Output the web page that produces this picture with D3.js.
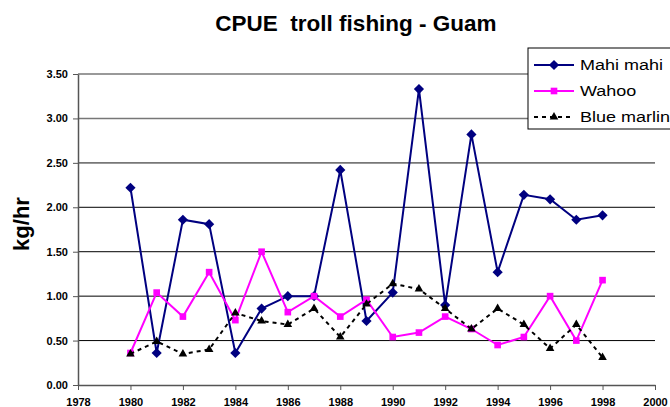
<!DOCTYPE html>
<html>
<head>
<meta charset="utf-8">
<script src="https://cdn.jsdelivr.net/npm/d3@7"></script>
<style>
  body { margin: 0; background: #fff; }
  svg { display: block; font-family: Arial, "Liberation Sans", sans-serif; }
</style>
</head>
<body>
<svg id="chart" width="670" height="407"></svg>
<script>
const years = [1980, 1981, 1982, 1983, 1984, 1985, 1986, 1987, 1988, 1989,
  1990, 1991, 1992, 1993, 1994, 1995, 1996, 1997, 1998];
const mahiMahi = [2.22, 0.36, 1.86, 1.81, 0.36, 0.86, 1.00, 1.00, 2.42, 0.72,
  1.04, 3.33, 0.90, 2.82, 1.27, 2.14, 2.09, 1.86, 1.91];
const wahoo = [0.36, 1.04, 0.77, 1.27, 0.73, 1.50, 0.82, 1.00, 0.77, 0.96,
  0.54, 0.59, 0.77, 0.63, 0.45, 0.54, 1.00, 0.50, 1.18];
const blueMarlin = [0.35, 0.49, 0.35, 0.40, 0.81, 0.72, 0.68, 0.86, 0.54, 0.91,
  1.14, 1.08, 0.86, 0.63, 0.86, 0.68, 0.41, 0.68, 0.31];
const xTicks = [1978, 1980, 1982, 1984, 1986, 1988, 1990, 1992, 1994, 1996, 1998, 2000];
const yTicks = [0, 0.5, 1.0, 1.5, 2.0, 2.5, 3.0, 3.5];

const series = [
  { name: 'Mahi mahi', values: mahiMahi, color: '#000080', symbol: d3.symbolSquare, size: 52, rot: 45, dash: null },
  { name: 'Wahoo', values: wahoo, color: '#ff00ff', symbol: d3.symbolSquare, size: 44, rot: 0, dash: null },
  { name: 'Blue marlin', values: blueMarlin, color: '#000', symbol: d3.symbolTriangle, size: 32, rot: 0, dash: '4,4' }
];

const svg = d3.select('#chart');
const plotLeft = 78, plotRight = 655, plotTop = 74, plotBottom = 385;

const x = d3.scaleLinear().domain([1978, 2000]).range([plotLeft, plotRight]);
const y = d3.scaleLinear().domain([0, 3.5]).range([plotBottom, plotTop]);

// gridlines
svg.append('g')
  .selectAll('line')
  .data(yTicks.filter(t => t > 0))
  .enter()
  .append('line')
  .attr('x1', plotLeft).attr('x2', plotRight)
  .attr('y1', d => y(d)).attr('y2', d => y(d))
  .attr('stroke', d => d >= 2.5 ? '#777' : '#000')
  .attr('stroke-width', d => d >= 2.5 ? 1.6 : 1);

// axes
const yAxis = svg.append('g')
  .attr('transform', `translate(${plotLeft},0)`)
  .call(d3.axisLeft(y).tickValues(yTicks).tickFormat(d3.format('.2f')).tickSize(5).tickSizeOuter(0));
const xAxis = svg.append('g')
  .attr('transform', `translate(0,${plotBottom})`)
  .call(d3.axisBottom(x).tickValues(xTicks).tickFormat(d3.format('d')).tickSize(5).tickSizeOuter(0));

[yAxis, xAxis].forEach(g => {
  g.select('.domain').attr('stroke', '#555').attr('stroke-width', 1.5);
  g.selectAll('.tick line').attr('stroke', '#555');
  g.selectAll('.tick text')
    .attr('fill', '#000')
    .style('font-size', '11px')
    .style('font-weight', 'bold')
    .style('font-family', 'Arial, "Liberation Sans", sans-serif');
});
yAxis.selectAll('.tick text').attr('x', -10);
xAxis.selectAll('.tick text').attr('y', 13);

// lines and markers
const line = d3.line()
  .x((d, i) => x(years[i]))
  .y(d => y(d));

series.forEach(s => {
  svg.append('path')
    .datum(s.values)
    .attr('d', line)
    .attr('fill', 'none')
    .attr('stroke', s.color)
    .attr('stroke-width', 2)
    .attr('stroke-dasharray', s.dash);

  svg.append('g')
    .selectAll('path')
    .data(s.values)
    .enter()
    .append('path')
    .attr('d', d3.symbol().type(s.symbol).size(s.size))
    .attr('transform', (d, i) => `translate(${x(years[i])},${y(d)}) rotate(${s.rot})`)
    .attr('fill', s.color);
});

// title
svg.append('text')
  .attr('x', 356).attr('y', 31)
  .attr('text-anchor', 'middle')
  .style('font-size', '22.5px')
  .style('font-weight', 'bold')
  .style('white-space', 'pre')
  .text('CPUE  troll fishing - Guam');

// y label
svg.append('text')
  .attr('transform', 'translate(29,224) rotate(-90)')
  .attr('text-anchor', 'middle')
  .style('font-size', '22px')
  .style('font-weight', 'bold')
  .text('kg/hr');

// legend
const legend = svg.append('g').attr('transform', 'translate(528,48)');
legend.append('rect')
  .attr('x', 0).attr('y', 0)
  .attr('width', 160).attr('height', 81)
  .attr('fill', '#fff')
  .attr('stroke', '#000')
  .attr('stroke-width', 1);

series.forEach((s, i) => {
  const ly = 17 + i * 26;
  legend.append('line')
    .attr('x1', 6).attr('x2', 46)
    .attr('y1', ly).attr('y2', ly)
    .attr('stroke', s.color)
    .attr('stroke-width', 2)
    .attr('stroke-dasharray', s.dash);
  legend.append('path')
    .attr('d', d3.symbol().type(s.symbol).size(s.size))
    .attr('transform', `translate(26,${ly}) rotate(${s.rot})`)
    .attr('fill', s.color);
  legend.append('text')
    .attr('transform', `translate(52,${ly + 5}) scale(1.2,1)`)
    .style('font-size', '15px')
    .text(s.name);
});
</script>
</body>
</html>
